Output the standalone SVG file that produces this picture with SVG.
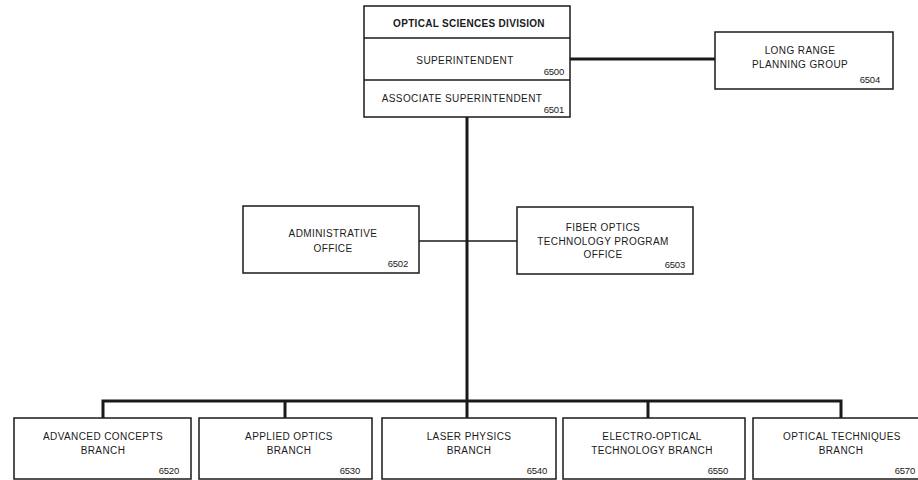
<svg xmlns="http://www.w3.org/2000/svg" width="918" height="480" viewBox="0 0 918 480">
<style>
.box{fill:#fff;stroke:#1a1a1a;stroke-width:1.5}
.t{font-family:"Liberation Sans",Arial,sans-serif;font-size:10px;fill:#1a1a1a;text-anchor:middle;letter-spacing:0.4px}
.b{font-weight:bold;letter-spacing:0.3px}
.n{font-family:"Liberation Sans",Arial,sans-serif;font-size:9.5px;fill:#1a1a1a;text-anchor:end;letter-spacing:-0.2px}
.thick{stroke:#1a1a1a;stroke-width:3;fill:none}
.thin{stroke:#1a1a1a;stroke-width:1.6;fill:none}
</style>
<rect width="918" height="480" fill="#fff"/>
<g id="connectors">
<line class="thick" x1="467" y1="117" x2="467" y2="418"/>
<line class="thick" x1="570" y1="59" x2="715" y2="59"/>
<line class="thin" x1="419" y1="241" x2="517" y2="241"/>
<polyline class="thick" points="103,418 103,401 841,401 841,418"/>
<line class="thick" x1="285" y1="401" x2="285" y2="418"/>
<line class="thick" x1="648" y1="401" x2="648" y2="418"/>
</g>
<g id="osd">
<rect class="box" x="364" y="6" width="206" height="111"/>
<line class="thin" x1="364" y1="38" x2="570" y2="38"/>
<line class="thin" x1="364" y1="80" x2="570" y2="80"/>
<text class="t b" x="469" y="27">OPTICAL SCIENCES DIVISION</text>
<text class="t" x="465" y="64">SUPERINTENDENT</text>
<text class="n" x="564" y="75">6500</text>
<text class="t" x="462" y="102">ASSOCIATE SUPERINTENDENT</text>
<text class="n" x="564" y="113">6501</text>
</g>
<g id="longrange">
<rect class="box" x="715" y="32" width="178" height="57"/>
<text class="t" x="800" y="54">LONG RANGE</text>
<text class="t" x="800" y="68">PLANNING GROUP</text>
<text class="n" x="880" y="83">6504</text>
</g>
<g id="admin">
<rect class="box" x="243" y="206" width="176" height="67"/>
<text class="t" x="333" y="237">ADMINISTRATIVE</text>
<text class="t" x="333" y="252">OFFICE</text>
<text class="n" x="408" y="267">6502</text>
</g>
<g id="fiber">
<rect class="box" x="517" y="207" width="176" height="67"/>
<text class="t" x="603" y="231">FIBER OPTICS</text>
<text class="t" x="603" y="245">TECHNOLOGY PROGRAM</text>
<text class="t" x="603" y="258">OFFICE</text>
<text class="n" x="685" y="268">6503</text>
</g>
<g id="advanced">
<rect class="box" x="14" y="418" width="177" height="61"/>
<text class="t" x="103" y="440">ADVANCED CONCEPTS</text>
<text class="t" x="103" y="454">BRANCH</text>
<text class="n" x="179" y="474">6520</text>
</g>
<g id="applied">
<rect class="box" x="199" y="418" width="173" height="61"/>
<text class="t" x="289" y="440">APPLIED OPTICS</text>
<text class="t" x="289" y="454">BRANCH</text>
<text class="n" x="360" y="474">6530</text>
</g>
<g id="laser">
<rect class="box" x="382" y="418" width="174" height="61"/>
<text class="t" x="469" y="440">LASER PHYSICS</text>
<text class="t" x="469" y="454">BRANCH</text>
<text class="n" x="547" y="474">6540</text>
</g>
<g id="electro">
<rect class="box" x="563" y="418" width="182" height="61"/>
<text class="t" x="652" y="440">ELECTRO-OPTICAL</text>
<text class="t" x="652" y="454">TECHNOLOGY BRANCH</text>
<text class="n" x="728" y="474">6550</text>
</g>
<g id="techniques">
<rect class="box" x="753" y="418" width="180" height="61"/>
<text class="t" x="842" y="440">OPTICAL TECHNIQUES</text>
<text class="t" x="841" y="454">BRANCH</text>
<text class="n" x="915" y="474">6570</text>
</g>
</svg>
